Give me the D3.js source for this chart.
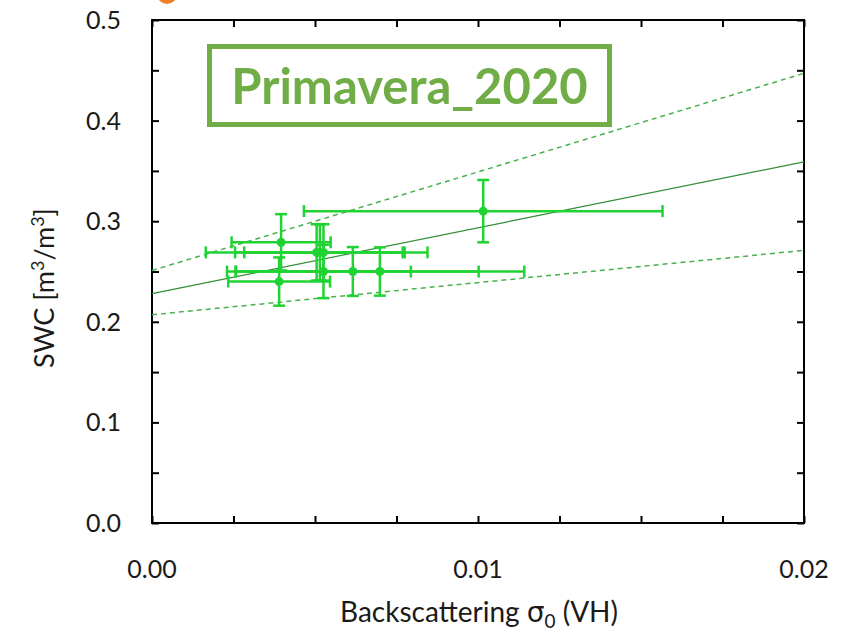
<!DOCTYPE html>
<html>
<head>
<meta charset="utf-8">
<script src="https://cdn.jsdelivr.net/npm/d3@7"></script>
<style>
  body { margin: 0; background: #fff; }
  text { font-family: Lato, "Open Sans", sans-serif; fill: #1a1a1a; }
</style>
</head>
<body>
<svg id="chart"></svg>
<script>
// measured points: sigma0 (VH), SWC, and their errors
const sigma = [0.01016, 0.00396, 0.00505, 0.00515, 0.00526, 0.00526, 0.00616, 0.00699, 0.0039]
const swc = [0.310, 0.279, 0.269, 0.269, 0.269, 0.250, 0.250, 0.250, 0.240]
const sigmaErr = [0.0055, 0.00152, 0.0034, 0.0026, 0.00243, 0.00268, 0.00386, 0.00443, 0.00156]
const swcErr = [0.031, 0.028, 0.028, 0.028, 0.028, 0.0265, 0.0243, 0.024, 0.024]

// regression and bounds, value at both ends of the x range
const fitX = [0, 0.02]
const fitY = [0.228, 0.359]
const upperY = [0.251, 0.447]
const lowerY = [0.207, 0.271]

const xTicks = [0, 0.01, 0.02]
const yTicks = [0, 0.1, 0.2, 0.3, 0.4, 0.5]
const title = "Primavera_2020"

const width = 841, height = 635
const margin = {left: 152, right: 37, top: 20, bottom: 112}

const svg = d3.select("#chart").attr("width", width).attr("height", height)

const x = d3.scaleLinear().domain([0, 0.02]).range([margin.left, width - margin.right])
const y = d3.scaleLinear().domain([0, 0.5]).range([height - margin.bottom, margin.top])

const errColor = "#1fd432"

// frame with inward ticks on all sides
const axes = svg.append("g")
const minorX = d3.range(0, 0.0201, 0.0025)
const minorY = d3.range(0, 0.501, 0.05)

axes.append("g").attr("transform", `translate(0,${y(0)})`)
    .call(d3.axisBottom(x).tickValues(minorX).tickSize(-7).tickFormat(""))
axes.append("g").attr("transform", `translate(0,${y(0.5)})`)
    .call(d3.axisTop(x).tickValues(minorX).tickSize(-7).tickFormat(""))
axes.append("g").attr("transform", `translate(${x(0)},0)`)
    .call(d3.axisLeft(y).tickValues(minorY).tickSize(-7).tickFormat(""))
axes.append("g").attr("transform", `translate(${x(0.02)},0)`)
    .call(d3.axisRight(y).tickValues(minorY).tickSize(-7).tickFormat(""))
axes.selectAll(".tick line").attr("stroke", "#000").attr("stroke-width", 2)
axes.selectAll(".domain").remove()

svg.append("rect")
    .attr("x", x(0)).attr("y", y(0.5))
    .attr("width", x(0.02) - x(0)).attr("height", y(0) - y(0.5))
    .attr("fill", "none").attr("stroke", "#000").attr("stroke-width", 2)

// tick labels
svg.append("g").selectAll("text").data(xTicks).join("text")
    .text(d => d3.format(".2f")(d))
    .attr("x", d => x(d)).attr("y", y(0) + 55)
    .attr("text-anchor", "middle").attr("font-size", 25)

svg.append("g").selectAll("text").data(yTicks).join("text")
    .text(d => d3.format(".1f")(d))
    .attr("x", x(0) - 31).attr("y", d => y(d) + 9)
    .attr("text-anchor", "end").attr("font-size", 25)

// axis titles
const xt = svg.append("text").attr("x", 479).attr("y", 622)
    .attr("text-anchor", "middle").attr("font-size", 28)
xt.append("tspan").text("Backscattering ")
xt.append("tspan").text("σ").style("font-family", "'DejaVu Sans'")
xt.append("tspan").text("0").attr("font-size", 19).attr("dy", 6)
xt.append("tspan").text(" (VH)").attr("dy", -6)

const yt = svg.append("text").attr("transform", "translate(54,288) rotate(-90)")
    .attr("text-anchor", "middle").attr("font-size", 27)
yt.append("tspan").text("SWC [m")
yt.append("tspan").text("3").attr("font-size", 18).attr("dy", -10)
yt.append("tspan").text("/m").attr("dy", 10)
yt.append("tspan").text("3").attr("font-size", 18).attr("dy", -10)
yt.append("tspan").text("]").attr("dy", 10)

// lines
const line = d3.line().x(d => x(d[0])).y(d => y(d[1]))
const lines = svg.append("g")
lines.append("path").attr("d", line(d3.zip(fitX, upperY)))
    .attr("fill", "none").attr("stroke", "#49b04c").attr("stroke-width", 1.5).attr("stroke-dasharray", "5,4")
lines.append("path").attr("d", line(d3.zip(fitX, lowerY)))
    .attr("fill", "none").attr("stroke", "#49b04c").attr("stroke-width", 1.5).attr("stroke-dasharray", "5,4")
lines.append("path").attr("d", line(d3.zip(fitX, fitY)))
    .attr("fill", "none").attr("stroke", "#2f8f35").attr("stroke-width", 1.2)

// error bars and points
const pts = d3.range(sigma.length).map(i => ({x: sigma[i], y: swc[i], ex: sigmaErr[i], ey: swcErr[i]}))
const cap = 6
const eb = svg.append("g").attr("stroke", errColor).attr("stroke-width", 2.5)
pts.forEach(p => {
    eb.append("line").attr("x1", x(p.x - p.ex)).attr("x2", x(p.x + p.ex)).attr("y1", y(p.y)).attr("y2", y(p.y))
    eb.append("line").attr("x1", x(p.x)).attr("x2", x(p.x)).attr("y1", y(p.y - p.ey)).attr("y2", y(p.y + p.ey))
    ;[p.x - p.ex, p.x + p.ex].forEach(v => {
        eb.append("line").attr("x1", x(v)).attr("x2", x(v)).attr("y1", y(p.y) - cap).attr("y2", y(p.y) + cap)
    })
    ;[p.y - p.ey, p.y + p.ey].forEach(v => {
        eb.append("line").attr("x1", x(p.x) - cap).attr("x2", x(p.x) + cap).attr("y1", y(v)).attr("y2", y(v))
    })
})
svg.append("g").selectAll("circle").data(pts).join("circle")
    .attr("cx", d => x(d.x)).attr("cy", d => y(d.y)).attr("r", 4.5)
    .attr("fill", errColor)

// title box
svg.append("rect").attr("x", 209.5).attr("y", 46.5).attr("width", 400).attr("height", 78)
    .attr("fill", "#fff").attr("stroke", "#70ad47").attr("stroke-width", 5)
svg.append("text").text(title).attr("x", 409.5).attr("y", 104)
    .attr("text-anchor", "middle").attr("font-size", 49).attr("font-weight", "bold")
    .style("fill", "#70ad47")

// orange marker peeking at the top
svg.append("circle").attr("cx", 167).attr("cy", -6).attr("r", 10).attr("fill", "#f07d22")
</script>
</body>
</html>
